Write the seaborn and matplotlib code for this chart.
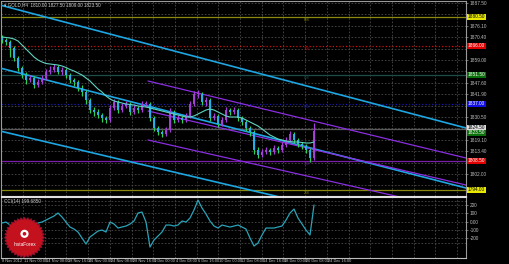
import numpy as np
import pandas as pd
import matplotlib
matplotlib.use("Agg")
import matplotlib.pyplot as plt
import matplotlib.transforms as mtrans
from matplotlib.patches import Polygon, Circle
import seaborn as sns

# ---------------- data ----------------
first_open = 1870.0
close = [1869.0, 1868.0, 1865.0, 1860.0, 1855.0, 1851.5, 1849.0, 1850.0, 1846.5, 1848.0,
         1850.0, 1853.0, 1854.0, 1855.5, 1853.0, 1854.0, 1851.5, 1849.0, 1848.0, 1845.0,
         1843.0, 1839.0, 1834.0, 1833.0, 1831.5, 1830.0, 1829.0, 1835.0, 1838.0, 1834.0,
         1836.0, 1837.0, 1833.0, 1835.0, 1834.0, 1837.0, 1837.0, 1830.0, 1825.0, 1823.0,
         1822.0, 1824.0, 1833.0, 1829.0, 1830.0, 1829.0, 1831.0, 1837.0, 1842.0, 1842.0,
         1838.0, 1839.0, 1830.0, 1831.0, 1827.0, 1829.0, 1834.0, 1833.0, 1834.0, 1830.0,
         1828.0, 1825.0, 1823.0, 1814.0, 1811.5, 1813.0, 1814.0, 1813.0, 1815.0, 1814.0,
         1816.5, 1819.0, 1822.0, 1819.0, 1817.0, 1816.0, 1814.0, 1810.0, 1823.5]
high = [1871.5, 1870.0, 1869.0, 1866.0, 1861.0, 1856.0, 1853.0, 1851.5, 1851.0, 1849.5,
        1851.5, 1854.5, 1856.0, 1857.0, 1856.5, 1855.5, 1855.0, 1852.5, 1850.0, 1849.0,
        1846.5, 1844.0, 1840.0, 1835.5, 1834.5, 1832.5, 1831.0, 1836.5, 1839.5, 1839.0,
        1837.5, 1838.5, 1838.0, 1836.5, 1836.0, 1838.5, 1838.5, 1838.0, 1831.0, 1826.0,
        1824.0, 1825.5, 1835.0, 1834.0, 1831.5, 1831.0, 1832.5, 1838.5, 1843.5, 1844.0,
        1843.0, 1840.5, 1840.0, 1832.5, 1832.0, 1830.5, 1835.5, 1835.0, 1835.5, 1835.0,
        1831.0, 1829.0, 1826.0, 1824.0, 1815.5, 1814.5, 1815.5, 1815.0, 1816.5, 1816.0,
        1818.0, 1820.5, 1823.5, 1823.0, 1820.0, 1818.0, 1817.0, 1815.0, 1827.5]
low = [1867.5, 1866.5, 1860.5, 1858.5, 1853.5, 1850.0, 1847.0, 1848.0, 1845.0, 1845.5,
       1847.0, 1849.0, 1852.0, 1853.0, 1852.0, 1851.5, 1850.0, 1847.5, 1846.0, 1843.5,
       1841.0, 1837.0, 1832.5, 1831.0, 1830.0, 1828.0, 1827.5, 1828.0, 1834.0, 1832.5,
       1833.0, 1835.0, 1831.5, 1832.0, 1832.5, 1833.0, 1835.5, 1828.5, 1823.5, 1821.5,
       1820.5, 1821.0, 1823.0, 1827.5, 1828.0, 1827.5, 1828.0, 1830.0, 1836.0, 1840.0,
       1836.5, 1836.0, 1828.5, 1829.0, 1825.5, 1826.0, 1828.0, 1831.5, 1832.0, 1828.5,
       1826.5, 1823.5, 1821.0, 1812.0, 1810.0, 1810.5, 1812.0, 1811.5, 1812.0, 1812.5,
       1813.0, 1815.5, 1818.0, 1817.5, 1815.5, 1814.5, 1812.5, 1808.0, 1809.0]
sma = [1870.5, 1870.25, 1870.0, 1869.5, 1868.5, 1866.5, 1864.5, 1862.5, 1860.5, 1859.0,
       1858.0, 1857.25, 1857.0, 1856.75, 1856.5, 1856.0, 1855.25, 1854.25, 1853.5, 1852.5,
       1851.5, 1850.0, 1848.5, 1846.5, 1844.5, 1843.0, 1841.0, 1839.5, 1838.5, 1838.0,
       1837.5, 1837.0, 1836.75, 1836.5, 1836.0, 1835.75, 1835.5, 1835.0, 1834.5, 1834.0,
       1833.5, 1833.0, 1832.5, 1832.0, 1831.5, 1831.0, 1830.5, 1830.5, 1831.0, 1832.0,
       1833.0, 1834.0, 1834.5, 1834.0, 1833.0, 1832.0, 1831.0, 1830.5, 1830.5, 1830.5,
       1830.0, 1829.0, 1828.0, 1827.0, 1826.0, 1824.5, 1823.0, 1821.5, 1820.5, 1819.5,
       1819.0, 1818.5, 1818.25, 1818.0, 1818.0, 1817.75, 1817.5, 1817.5, 1818.0]
cci = [-16, -4, -40, -52, -28, -4, 8, -4, -28, -16,
       -4, 20, 44, 68, 104, 56, -4, -64, -88, -124,
       -196, -268, -184, -148, -112, -100, -124, -4, -28, -76,
       -64, -52, -28, 8, 104, 116, -4, -304, -220, -172,
       -124, -40, -40, -52, -40, 8, -4, 44, 140, 260,
       164, 92, 8, -52, -76, -40, -52, -64, -52, -40,
       -64, -88, -196, -292, -256, -160, -76, -76, -76, -64,
       -52, 20, 104, 152, 44, -28, -100, -160, 200]

# trend / channel lines (x0, y0, x1, y1) in bar index / price
cyan_lines = [(-0.5, 1886.5, 116, 1825.0),
              (-0.5, 1855.0, 116, 1795.0),
              (-0.5, 1823.5, 116, 1768.5)]
purple_lines = [(36.5, 1848.5, 116, 1810.0),
                (36.5, 1833.5, 116, 1796.5),
                (36.5, 1819.0, 116, 1783.0)]

# horizontal levels
levels = [1880.5, 1866.0, 1851.5, 1837.0, 1808.5, 1794.0]
level_names = ["8/8", "7/8", "6/8", "5/8", "3/8", "2/8"]
level_colors = ["#8a8a10", "#d01010", "#1d4d48", "#1a1ab8", "#7a1fa8", "#8a8a10"]
level_styles = ["-", ":", "-", ":", "-", "-"]
label_box_colors = ["#e8e800", "#e00000", "#0b700b", "#1010e8", "#e00000", "#e8e800"]
label_text_colors = ["black", "white", "white", "white", "white", "black"]
current_price = 1823.5

price_ticks = [1887.50, 1881.80, 1876.10, 1870.40, 1864.70, 1859.00, 1853.30, 1847.60,
               1841.90, 1836.20, 1830.50, 1824.80, 1819.10, 1813.40, 1807.70, 1802.00, 1796.30]
cci_ticks = [200, 100, 0, -100, -200]
cci_tick_labels = ["200", "100", "0.00", "-100", "-200"]

date_labels = ["8 Nov 2012", "11 Nov 00:00", "14 Nov 08:00", "18 Nov 16:00", "21 Nov 00:00",
               "24 Nov 08:00", "28 Nov 16:00", "1 Dec 00:00", "4 Dec 08:00", "6 Dec 16:00",
               "10 Dec 00:00", "12 Dec 08:00", "14 Dec 16:00", "18 Dec 00:00", "20 Dec 08:00",
               "24 Dec 16:00"]

title_text = "GOLD,H4  1810.00 1827.50 1809.00 1823.50"
cci_title = "CCI(14) 199.6850"

# ---------------- frame ----------------
df = pd.DataFrame({"i": np.arange(len(close)), "close": close, "high": high,
                   "low": low, "sma": sma, "cci": cci})
df["open"] = np.r_[first_open, df["close"].values[:-1]]

sns.set_style("dark", rc={"axes.facecolor": "black", "figure.facecolor": "black",
                          "axes.edgecolor": "#9a9a9a", "grid.color": "#3a3a3a"})
plt.rcParams["font.family"] = ["DejaVu Sans"]
NARROW = ["Liberation Sans Narrow", "Liberation Sans", "DejaVu Sans"]

W, H = 510, 264
fig = plt.figure(figsize=(W / 100, H / 100), dpi=100, facecolor="black")


def box(l, t, r, b):
    return [l / W, 1 - b / H, (r - l) / W, (b - t) / H]


ax = fig.add_axes(box(1, 1, 466, 196))
ax2 = fig.add_axes(box(1, 197, 466, 258))
for a in (ax, ax2):
    a.set_facecolor("black")
    for s in a.spines.values():
        s.set_color("#9a9a9a")
        s.set_linewidth(0.8)
ax.spines["bottom"].set_color("#e0e0e0")
ax2.spines["top"].set_color("#e0e0e0")
ax2.spines["bottom"].set_color("#bdbdbd")

XL = (-0.25, 116.0)
ax.set_xlim(*XL)
ax2.set_xlim(*XL)
ax.set_ylim(1791.0, 1888.5)
ax2.set_ylim(-435.6, 296.4)

grid_kw = dict(color="#4a4a4a", lw=0.6, ls=(0, (2, 2)), zorder=0)
vgrid = [(1.4 + 21.7 * k - 2) / 4 for k in range(22)]
for a in (ax, ax2):
    for gx in vgrid:
        a.axvline(gx, **grid_kw)
for p in price_ticks:
    ax.axhline(p, **grid_kw)
for v in cci_ticks + [250, -250]:
    ax2.axhline(v, **grid_kw)

btrans = mtrans.blended_transform_factory(ax.transAxes, ax.transData)
box_prices = []
# levels
for lv, nm, c, ls, bc, tc in zip(levels, level_names, level_colors, level_styles,
                                 label_box_colors, label_text_colors):
    ax.axhline(lv, color=c, lw=0.9, ls=ls, zorder=1)
    ax.text(76.2, lv - 0.6, nm, color=c, fontsize=3.0, ha="center", va="top", zorder=2,
            family=NARROW)
    ax.text(1.004, lv, f"{lv:.2f}", transform=btrans, family=NARROW,
            fontsize=3.4, color=tc, va="center", ha="left", clip_on=False,
            bbox=dict(boxstyle="square,pad=0.15", fc=bc, ec="none"))
    box_prices.append(lv)
ax.axhline(current_price + 1.0, color="#5a5a5a", lw=0.9, zorder=1)
ax.text(1.004, current_price + 1.6, f"{current_price + 1.0:.2f}", transform=btrans,
        fontsize=3.4, color="black", va="center", ha="left", clip_on=False, family=NARROW,
        bbox=dict(boxstyle="square,pad=0.15", fc="#dcdcdc", ec="none"))
ax.text(1.004, current_price - 1.0, f"{current_price:.2f}", transform=btrans,
        fontsize=3.4, color="white", va="center", ha="left", clip_on=False, family=NARROW,
        bbox=dict(boxstyle="square,pad=0.15", fc="#0b700b", ec="none"))
box_prices += [current_price + 1.6, current_price - 1.0]

# trend lines
for x0, y0, x1, y1 in cyan_lines:
    ax.plot([x0, x1], [y0, y1], color="#1ea6e2", lw=1.2, zorder=3)
for x0, y0, x1, y1 in purple_lines:
    ax.plot([x0, x1], [y0, y1], color="#8a2ee0", lw=0.9, zorder=3)

# candles
up = df["close"] >= df["open"]
body_col = np.where(up, "#a53ddb", "#23b0e8")
wick_col = np.where(up, "#a53ddb", "#2fcf5a")
ax.vlines(df["i"], df["low"], df["high"], colors=wick_col, lw=0.9, zorder=4)
hgt = (df["close"] - df["open"]).values
hgt = np.where(np.abs(hgt) < 0.5, 0.5, hgt)
ax.bar(df["i"], hgt, bottom=df["open"], width=0.7, color=body_col, lw=0, zorder=5)

sns.lineplot(data=df, x="i", y="sma", ax=ax, color="#5fd3c0", lw=0.8, zorder=6)
sns.lineplot(data=df, x="i", y="cci", ax=ax2, color="#2aa3b8", lw=0.9, zorder=6)

# ticks (skip those hidden behind the coloured price boxes)
vis_ticks = [p for p in price_ticks if min(abs(p - b) for b in box_prices) > 2.4]
for a in (ax, ax2):
    a.set_xlabel("")
    a.set_ylabel("")
    a.set_xticks([])
    a.yaxis.tick_right()
    a.tick_params(axis="y", colors="#bdbdbd", labelsize=3.4, length=1.5, width=0.4, pad=1)
ax.set_yticks(vis_ticks)
ax.set_yticklabels([f"{p:.2f}" for p in vis_ticks], family=NARROW)
ax2.set_yticks(cci_ticks)
ax2.set_yticklabels(cci_tick_labels, family=NARROW)

# date labels
for k, lab in enumerate(date_labels):
    fig.text((1.4 + 21.7 * k + 1) / W, 1 - 261 / H, lab, fontsize=2.8, color="#c8c8c8",
             ha="left", va="center", family=NARROW)

# titles
fig.text(4 / W, 1 - 5 / H, "\u25be " + title_text, fontsize=3.3, color="#d0d0d0",
         va="center", family=NARROW + ["DejaVu Sans"])
fig.text(4 / W, 1 - 201 / H, cci_title, fontsize=3.3, color="#d0d0d0", va="center",
         family=NARROW)

# logo
lax = fig.add_axes(box(4, 217, 45, 258))
lax.set_xlim(-1, 1)
lax.set_ylim(-1, 1)
lax.axis("off")
n = 36
ang = np.linspace(0, 2 * np.pi, 2 * n, endpoint=False)
rad = np.where(np.arange(2 * n) % 2 == 0, 0.98, 0.88)
lax.add_patch(Polygon(np.c_[rad * np.cos(ang), rad * np.sin(ang)], closed=True,
                      fc="#c3121e", ec="#8a1030", lw=0.6))
lax.add_patch(Circle((0, 0.18), 0.2, fc="white", ec="none"))
lax.add_patch(Circle((0, 0.18), 0.09, fc="#c3121e", ec="none"))
lax.text(0, -0.35, "InstaForex", color="white", fontsize=3.4, ha="center", va="center",
         family=NARROW)

fig.savefig("out.png", dpi=100, facecolor="black")
